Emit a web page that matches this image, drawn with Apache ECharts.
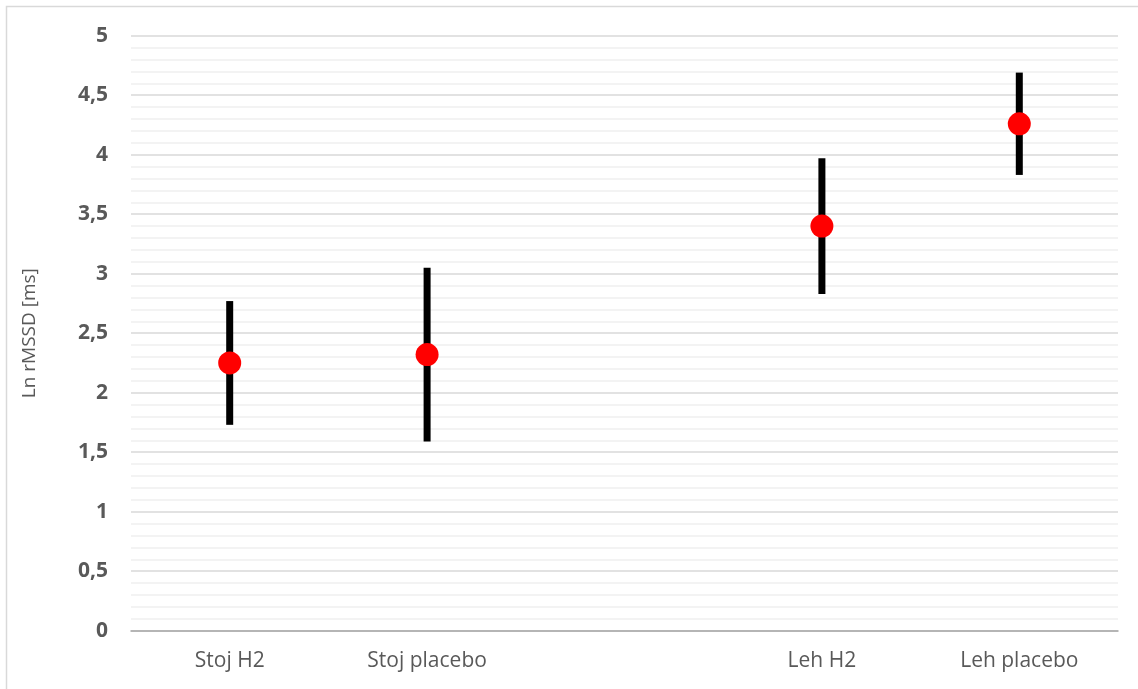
<!DOCTYPE html>
<html>
<head>
<meta charset="utf-8">
<script src="https://cdn.jsdelivr.net/npm/echarts@6/dist/echarts.min.js"></script>
<style>
  html, body { margin: 0; padding: 0; background: #fff; }
  #chart { width: 1138px; height: 689px; }
</style>
</head>
<body>
<div id="chart"></div>
<script>
// Groups (the empty slot separates standing from lying measurements)
const categories = ['Stoj H2', 'Stoj placebo', '', 'Leh H2', 'Leh placebo'];
// Mean Ln rMSSD per group
const means = [2.25, 2.32, null, 3.40, 4.26];
// Error bar bounds
const lower = [1.73, 1.59, null, 2.83, 3.83];
const upper = [2.77, 3.05, null, 3.97, 4.69];
// Y axis tick values
const yTicks = [0, 0.5, 1, 1.5, 2, 2.5, 3, 3.5, 4, 4.5, 5];

const textColor = '#595959';
const fontFamily = '"Open Sans", "Liberation Sans", sans-serif';

const errorData = categories.map((c, i) => [i, lower[i], upper[i]]).filter(d => d[1] !== null);
const meanData = categories.map((c, i) => [i, means[i]]).filter(d => d[1] !== null);

const chart = echarts.init(document.getElementById('chart'), null, { renderer: 'canvas' });
chart.setOption({
  animation: false,
  backgroundColor: '#ffffff',
  graphic: [{
    type: 'rect',
    shape: { x: 6.5, y: 6.5, width: 1200, height: 1000 },
    style: { fill: 'none', stroke: '#d9d9d9', lineWidth: 1.5 },
    silent: true
  }],
  grid: { left: 131, right: 20, top: 35.7, bottom: 58.3 },
  xAxis: {
    type: 'category',
    data: categories,
    boundaryGap: true,
    axisLine: { show: true, lineStyle: { color: '#a6a6a6', width: 1.5 } },
    axisTick: { show: false },
    axisLabel: { color: textColor, fontSize: 21, fontFamily: fontFamily, margin: 20 },
    splitLine: { show: false }
  },
  yAxis: {
    type: 'value',
    min: yTicks[0],
    max: yTicks[yTicks.length - 1],
    interval: 0.5,
    name: 'Ln rMSSD [ms]',
    nameLocation: 'middle',
    nameGap: 92,
    nameRotate: 90,
    nameTextStyle: { color: textColor, fontSize: 19, fontFamily: fontFamily },
    axisLine: { show: false },
    axisTick: { show: false },
    axisLabel: {
      color: textColor, fontSize: 21, fontWeight: 'bold', fontFamily: fontFamily, margin: 23,
      formatter: v => String(v).replace('.', ',')
    },
    splitLine: { show: true, lineStyle: { color: '#d9d9d9', width: 1.5 } },
    minorTick: { show: false, splitNumber: 5 },
    minorSplitLine: { show: true, lineStyle: { color: '#f0f0f0', width: 1.5 } }
  },
  series: [
    {
      type: 'custom',
      name: 'error',
      data: errorData,
      z: 2,
      renderItem: (params, api) => {
        const x = api.value(0);
        const top = api.coord([x, api.value(2)]);
        const bottom = api.coord([x, api.value(1)]);
        const w = 7;
        return {
          type: 'rect',
          shape: { x: top[0] - w / 2, y: top[1], width: w, height: bottom[1] - top[1] },
          style: { fill: '#000000' }
        };
      }
    },
    {
      type: 'scatter',
      name: 'mean',
      data: meanData,
      symbol: 'circle',
      symbolSize: 23,
      z: 3,
      itemStyle: { color: '#ff0000', opacity: 1 }
    }
  ]
});
</script>
</body>
</html>
